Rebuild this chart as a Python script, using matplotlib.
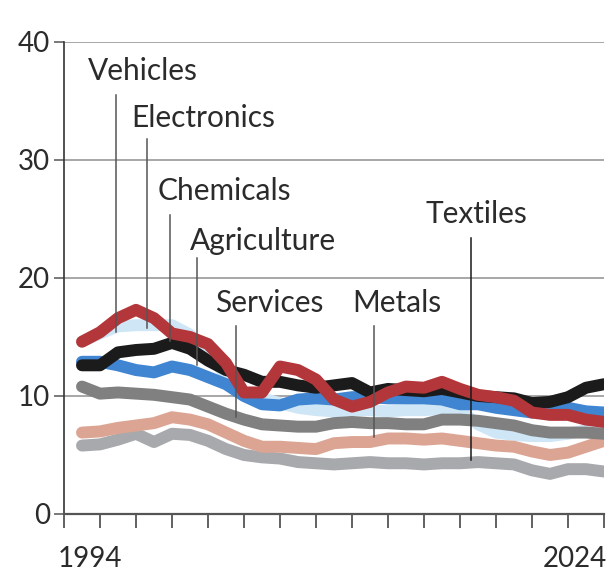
import numpy as np
import matplotlib
matplotlib.use("Agg")
import matplotlib.pyplot as plt

years = np.arange(1995, 2025)

vehicles = [14.6, 15.3, 15.9, 16.0, 16.0, 16.0, 15.2, 13.5, 11.8, 10.2,
            9.8, 9.4, 9.0, 8.8, 8.7, 8.8, 8.8, 8.7, 8.8, 8.8,
            8.9, 8.8, 7.6, 6.9, 6.7, 6.6, 6.6, 6.8, 7.1, 7.1]
electronics = [14.6, 15.4, 16.6, 17.3, 16.6, 15.3, 15.0, 14.4, 12.8, 10.3,
               10.3, 12.5, 12.2, 11.4, 9.7, 9.1, 9.5, 10.3, 10.8, 10.7,
               11.2, 10.6, 10.1, 9.9, 9.6, 8.6, 8.4, 8.4, 8.0, 7.8]
chemicals = [12.6, 12.6, 13.7, 13.9, 14.0, 14.5, 14.0, 13.0, 12.2, 11.8,
             11.2, 11.2, 10.9, 10.7, 10.9, 11.1, 10.3, 10.6, 10.5, 10.4,
             10.6, 10.3, 10.0, 9.9, 9.8, 9.4, 9.5, 9.9, 10.7, 11.0]
agriculture = [12.9, 12.9, 12.6, 12.2, 12.0, 12.5, 12.2, 11.6, 11.0, 10.0,
               9.3, 9.2, 9.7, 9.8, 9.7, 9.9, 9.9, 9.8, 9.8, 9.8,
               9.7, 9.3, 9.3, 9.0, 8.8, 8.6, 8.9, 9.0, 8.7, 8.6]
services = [10.8, 10.2, 10.3, 10.2, 10.1, 9.9, 9.7, 9.1, 8.5, 8.0,
            7.6, 7.5, 7.4, 7.4, 7.7, 7.8, 7.7, 7.7, 7.6, 7.6,
            8.0, 8.0, 7.9, 7.7, 7.5, 7.1, 6.9, 6.9, 6.9, 6.8]
metals = [6.9, 7.0, 7.3, 7.5, 7.7, 8.2, 8.0, 7.6, 6.9, 6.2,
          5.7, 5.7, 5.6, 5.5, 6.0, 6.1, 6.1, 6.4, 6.4, 6.3,
          6.4, 6.2, 6.0, 5.8, 5.7, 5.3, 5.0, 5.2, 5.7, 6.2]
textiles = [5.8, 5.9, 6.3, 6.8, 6.1, 6.8, 6.7, 6.2, 5.5, 5.0,
            4.8, 4.7, 4.4, 4.3, 4.2, 4.3, 4.4, 4.3, 4.3, 4.2,
            4.3, 4.3, 4.4, 4.3, 4.2, 3.7, 3.4, 3.8, 3.8, 3.6]

labels = ["Vehicles", "Electronics", "Chemicals", "Agriculture",
          "Services", "Metals", "Textiles"]
# text baseline anchor (year, value)
label_pos = [(1995.33, 36.8), (1997.72, 32.8), (1999.22, 26.6), (2001.0, 22.4),
             (2002.39, 17.1), (2010.0, 17.1), (2014.06, 24.7)]
# leader lines: (year, top, bottom)
leaders = [(1996.89, 35.5, 15.4), (1998.61, 31.8, 15.8), (1999.89, 25.3, 14.7),
           (2001.39, 21.7, 12.6), (2003.56, 15.9, 8.2), (2011.22, 15.9, 6.5),
           (2016.61, 23.4, 4.6)]

yticks = [0, 10, 20, 30, 40]
year_labels = [1994, 2024]

plt.rcParams['font.family'] = ['Lato', 'DejaVu Sans']

fig = plt.figure(figsize=(6.1, 5.72), dpi=100)
ax = fig.add_axes([64 / 610, 58 / 572, 540 / 610, 472 / 572])
ax.set_xlim(1994, 2024)
ax.set_ylim(0, 40)

series = [
    (vehicles, "#cfe6f6", 1),
    (textiles, "#a7a9ac", 2),
    (metals, "#dca593", 3),
    (services, "#808080", 4),
    (agriculture, "#3f85d2", 5),
    (chemicals, "#1b1b1b", 6),
    (electronics, "#b3373a", 7),
]
for vals, col, z in series:
    ax.plot(years, vals, color=col, lw=8.6, solid_capstyle="round",
            solid_joinstyle="round", zorder=z)

for (x, yt, yb), name in zip(leaders, labels):
    col = "#1a1a1a" if name == "Textiles" else "#555555"
    ax.plot([x, x], [yb, yt], color=col, lw=1.1, zorder=10)

for (x, y), name in zip(label_pos, labels):
    ax.text(x, y, name, fontsize=21.5, color="#2b2b2b", va="baseline",
            ha="left", zorder=11)

for y in yticks[1:]:
    ax.axhline(y, color="#a0a0a0", lw=1.3, zorder=0)

for s in ["top", "right"]:
    ax.spines[s].set_visible(False)
ax.spines["left"].set_color("#333333")
ax.spines["bottom"].set_color("#555555")
ax.spines["left"].set_linewidth(1.2)
ax.spines["bottom"].set_linewidth(1.6)

ax.set_yticks(yticks)
ax.set_yticklabels([str(v) for v in yticks])
ax.set_xticks(np.arange(1994, 2025, 2))
ax.set_xticklabels([])
ax.tick_params(axis="y", length=7, width=1.1, color="#555555",
               labelsize=20, labelcolor="#2b2b2b", pad=3)
ax.tick_params(axis="x", length=10, width=1.3, color="#555555")

# end-year labels below the axis
ax.annotate(str(year_labels[0]), xy=(year_labels[0], 0),
            xycoords=("data", "axes fraction"), xytext=(-6, -53),
            textcoords="offset pixels", ha="left", va="baseline",
            fontsize=20, color="#2b2b2b")
ax.annotate(str(year_labels[1]), xy=(year_labels[1], 0),
            xycoords=("data", "axes fraction"), xytext=(3, -53),
            textcoords="offset pixels", ha="right", va="baseline",
            fontsize=20, color="#2b2b2b", annotation_clip=False)

fig.savefig("out.png", dpi=100, facecolor="white")
